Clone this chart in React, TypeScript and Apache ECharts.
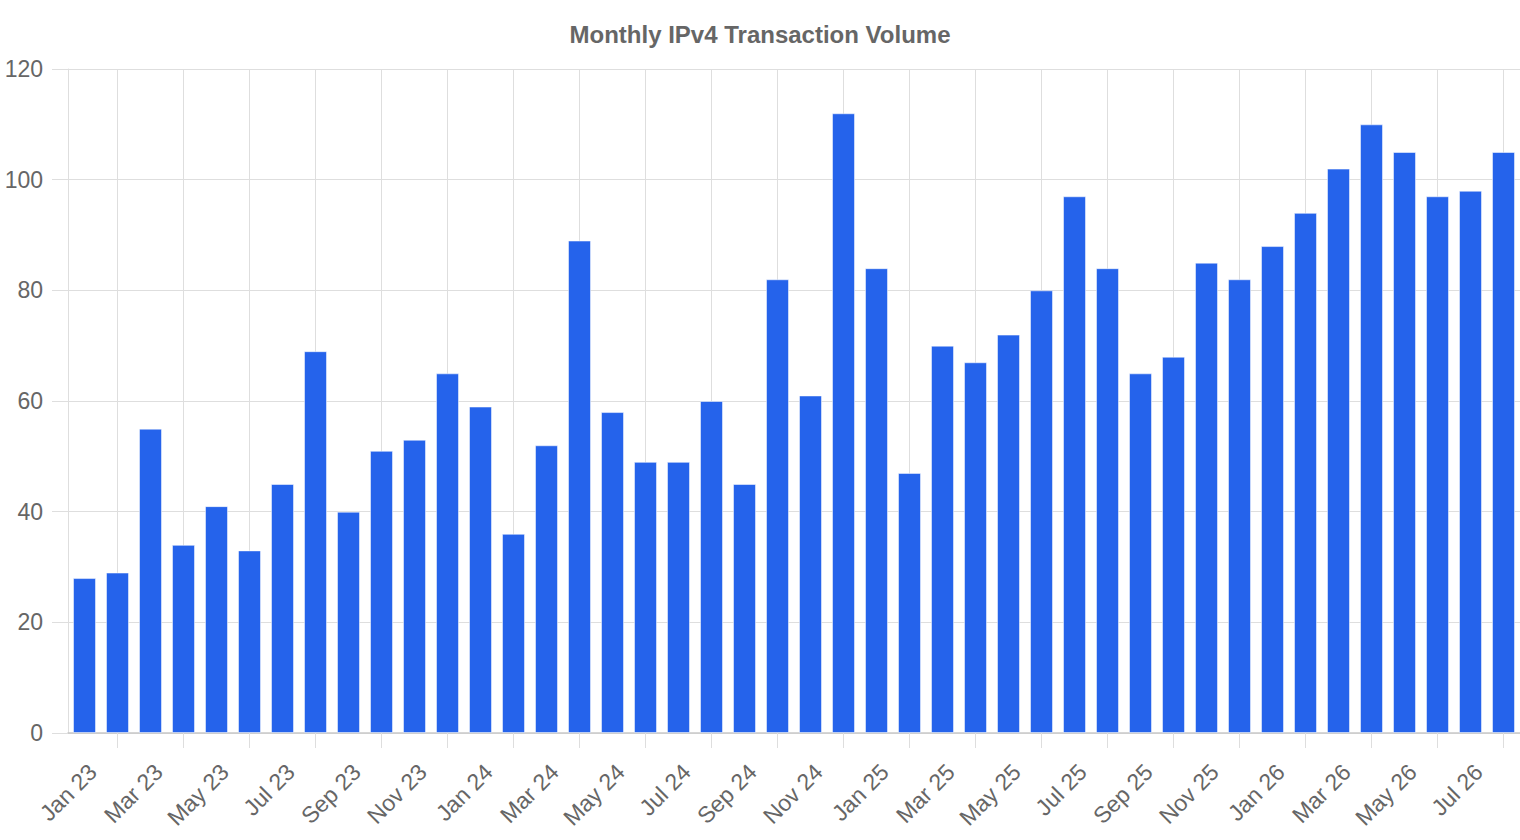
import { useEffect, useRef } from "react";
import * as echarts from "echarts";

const months = [
  "Jan 23", "Feb 23", "Mar 23", "Apr 23", "May 23", "Jun 23", "Jul 23", "Aug 23", "Sep 23", "Oct 23", "Nov 23", "Dec 23",
  "Jan 24", "Feb 24", "Mar 24", "Apr 24", "May 24", "Jun 24", "Jul 24", "Aug 24", "Sep 24", "Oct 24", "Nov 24", "Dec 24",
  "Jan 25", "Feb 25", "Mar 25", "Apr 25", "May 25", "Jun 25", "Jul 25", "Aug 25", "Sep 25", "Oct 25", "Nov 25", "Dec 25",
  "Jan 26", "Feb 26", "Mar 26", "Apr 26", "May 26", "Jun 26", "Jul 26", "Aug 26",
];

const volumes = [
  28, 29, 55, 34, 41, 33, 45, 69, 40, 51, 53, 65,
  59, 36, 52, 89, 58, 49, 49, 60, 45, 82, 61, 112,
  84, 47, 70, 67, 72, 80, 97, 84, 65, 68, 85, 82,
  88, 94, 102, 110, 105, 97, 98, 105,
];

const GRID = "#dedede";
const TEXT = "#666";
const FONT = "'Liberation Sans', Arial, sans-serif";

// helper axis in half-month steps from the left edge to the right edge;
// point j sits at the centre of month (j - 1) / 2, so j = 3, 7, 11 ... are Feb, Apr, Jun ...
const halfSteps = Array.from({ length: months.length * 2 + 1 }, (_, j) => String(j));

function buildOption(): echarts.EChartsOption {
  return {
    animation: false,
    title: {
      text: "Monthly IPv4 Transaction Volume",
      left: "center",
      top: 17,
      textStyle: { fontSize: 24, fontWeight: "bold", color: TEXT, fontFamily: FONT },
    },
    grid: { left: 68, right: 0, top: 69, bottom: 107 },
    xAxis: [
      {
        type: "category",
        data: months,
        axisLine: { lineStyle: { color: "#c8c8c8", width: 1.5 } },
        axisTick: {
          show: true,
          alignWithLabel: true,
          length: 15,
          interval: (index: number) => index % 2 === 1,
          lineStyle: { color: GRID },
        },
        splitLine: { show: false },
        axisLabel: {
          interval: 1,
          rotate: 45,
          align: "right",
          verticalAlign: "top",
          margin: 27,
          fontSize: 23,
          color: TEXT,
          fontFamily: FONT,
        },
      },
      {
        type: "category",
        position: "bottom",
        data: halfSteps,
        boundaryGap: false,
        axisLine: { show: false },
        axisTick: { show: false },
        axisLabel: { show: false },
        splitLine: {
          show: true,
          interval: (index: number) => index % 4 === 3,
          lineStyle: { color: GRID, width: 1 },
        },
      },
    ],
    yAxis: {
      type: "value",
      min: 0,
      max: 120,
      interval: 20,
      axisLine: { show: true, lineStyle: { color: GRID } },
      axisTick: { show: true, length: 16, lineStyle: { color: GRID } },
      splitLine: { show: true, lineStyle: { color: GRID, width: 1 } },
      axisLabel: { fontSize: 23, color: TEXT, margin: 25, fontFamily: FONT },
    },
    series: [
      {
        type: "bar",
        xAxisIndex: 0,
        data: volumes,
        barWidth: 23,
        itemStyle: {
          color: "#2563eb",
          borderColor: "rgba(255,255,255,0.5)",
          borderWidth: 1,
        },
      },
    ],
  };
}

export default function App() {
  const ref = useRef<HTMLDivElement>(null);

  useEffect(() => {
    if (!ref.current) return;
    const chart = echarts.init(ref.current, undefined, { renderer: "svg" });
    chart.setOption(buildOption());
    return () => chart.dispose();
  }, []);

  return (
    <div
      ref={ref}
      style={{ position: "fixed", left: 0, top: 0, width: 1520, height: 840, background: "#fff" }}
    />
  );
}
